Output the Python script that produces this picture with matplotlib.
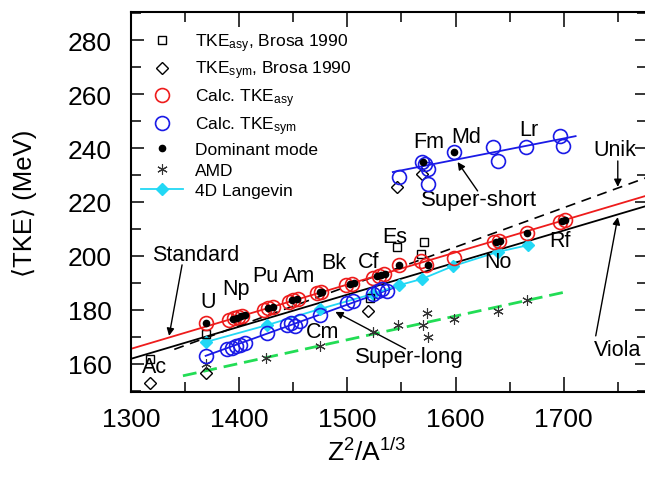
import matplotlib
matplotlib.use("Agg")
import matplotlib.pyplot as plt
from matplotlib.ticker import MultipleLocator

plt.rcParams['font.family'] = ['Liberation Sans', 'DejaVu Sans']
plt.rcParams['mathtext.fontset'] = 'custom'
plt.rcParams['mathtext.rm'] = 'Liberation Sans'
plt.rcParams['mathtext.it'] = 'Liberation Sans:italic'

# --- data ---
# Brosa 1990 systematics
brosa_asy_x = [1318, 1369, 1521, 1546, 1568, 1571]
brosa_asy_y = [162.0, 171.1, 184.6, 203.3, 200.7, 205.2]
brosa_sym_x = [1318, 1369, 1519, 1546, 1569]
brosa_sym_y = [153.0, 156.7, 179.6, 225.6, 230.4]

# calculated TKE, asymmetric mode
asy_x = [1369, 1391, 1395, 1399, 1403, 1423, 1427, 1431, 1446, 1450, 1454,
         1472, 1476, 1499, 1504, 1524, 1529, 1534, 1548, 1568, 1573, 1599,
         1636, 1640, 1666, 1697, 1701]
asy_y = [175.0, 176.4, 177.0, 177.4, 177.8, 180.0, 180.6, 181.0, 183.0, 183.6, 184.2,
         186.2, 186.8, 189.2, 189.8, 191.8, 192.6, 193.2, 196.7, 198.0, 196.6, 199.3,
         205.0, 205.6, 208.5, 212.6, 213.2]

# calculated TKE, symmetric mode (super-long + super-short)
sym_x = [1369, 1389, 1393, 1397, 1401, 1405, 1426, 1444, 1448, 1452, 1456,
         1475, 1500, 1505, 1524, 1528, 1532, 1537,
         1548, 1569, 1572, 1575, 1575, 1599, 1635, 1639, 1665, 1697, 1699]
sym_y = [163.0, 165.5, 166.0, 166.6, 167.2, 167.8, 171.3, 174.4, 175.0, 174.0, 175.8,
         178.2, 182.5, 183.5, 186.0, 187.0, 187.6, 187.2,
         229.3, 234.8, 234.0, 232.2, 226.7, 238.5, 240.4, 235.2, 240.4, 244.4, 240.7]

# dominant mode
dom_x = [1369, 1394, 1398, 1402, 1405, 1427, 1431, 1449, 1453, 1475, 1477,
         1502, 1506, 1527, 1531, 1535, 1548, 1575, 1637, 1641, 1666, 1698, 1701,
         1570, 1599]
dom_y = [175.0, 176.8, 177.2, 177.6, 178.0, 180.6, 181.0, 183.6, 184.2, 186.6, 186.8,
         189.6, 190.0, 192.4, 192.8, 193.2, 196.7, 196.8, 205.2, 205.4, 208.5, 212.8, 213.2,
         234.8, 238.5]

# AMD
amd_x = [1369, 1425, 1475, 1524, 1547, 1570, 1574, 1575, 1599, 1639, 1666]
amd_y = [160.0, 162.2, 166.7, 172.0, 174.6, 174.4, 179.0, 170.0, 176.8, 179.6, 183.7]

# 4D Langevin
lang_x = [1369, 1426, 1475, 1524, 1548, 1569, 1598, 1639, 1667]
lang_y = [168.1, 174.4, 180.4, 186.0, 189.2, 191.5, 196.3, 201.5, 204.0]

# straight lines (end points)
viola_x, viola_y = [1300, 1777], [161.9, 218.6]
standard_x, standard_y = [1300, 1777], [165.6, 222.4]
unik_x, unik_y = [1340, 1777], [165.4, 229.1]
slong_x, slong_y = [1369, 1545], [163.0, 188.5]
sshort_x, sshort_y = [1542, 1711], [231.1, 244.4]
amdfit_x, amdfit_y = [1348, 1702], [155.6, 186.7]

elements = ['Ac', 'U', 'Np', 'Pu', 'Am', 'Cm', 'Bk', 'Cf', 'Es', 'Fm', 'Md', 'No', 'Lr', 'Rf']
elem_x = [1322, 1371, 1397, 1424, 1455, 1477, 1487, 1520, 1544, 1575, 1610, 1639, 1668, 1697]
elem_y = [158.9, 183.3, 187.8, 192.6, 192.6, 172.2, 197.4, 198.1, 207.4, 242.6, 244.4, 197.8, 247.0, 205.6]

fig = plt.figure(figsize=(6.45, 4.81), dpi=100)
ax = fig.add_axes([131/645, 1 - 393/481, 516/645, 380/481])

red = '#ee1c1c'
blue = '#1a1ae6'
cyan = '#22d8f5'
green = '#22dd55'

ax.plot(viola_x, viola_y, color='k', lw=1.3, zorder=2)
ax.plot(unik_x, unik_y, color='k', lw=1.2, ls=(0, (6, 4)), zorder=2)
ax.plot(standard_x, standard_y, color=red, lw=1.3, zorder=2)
ax.plot(slong_x, slong_y, color=blue, lw=1.3, zorder=2)
ax.plot(sshort_x, sshort_y, color=blue, lw=1.3, zorder=2)
ax.plot(amdfit_x, amdfit_y, color=green, lw=2.0, ls=(0, (5, 2.5)), zorder=2)

ax.plot(brosa_asy_x, brosa_asy_y, 's', ms=6, mfc='none', mec='k', mew=1.0,
        label=r'TKE$_{\rm asy}$, Brosa 1990', zorder=4)
ax.plot(brosa_sym_x, brosa_sym_y, 'D', ms=6.5, mfc='none', mec='k', mew=1.0,
        label=r'TKE$_{\rm sym}$, Brosa 1990', zorder=4)
ax.plot(asy_x, asy_y, 'o', ms=10, mfc='none', mec=red, mew=1.2,
        label=r'Calc. TKE$_{\rm asy}$', zorder=5)
ax.plot(sym_x, sym_y, 'o', ms=10, mfc='none', mec=blue, mew=1.2,
        label=r'Calc. TKE$_{\rm sym}$', zorder=5)
ax.plot(dom_x, dom_y, 'o', ms=4.5, color='k', label='Dominant mode', zorder=6)
ax.plot(amd_x, amd_y, marker=(6, 2, 0), ms=7.5, ls='none', color='#333333', mew=0.8,
        label='AMD', zorder=4)
ax.plot(lang_x, lang_y, '-D', color=cyan, ms=6.5, lw=1.3, label='4D Langevin', zorder=3)

for name, ex, ey in zip(elements, elem_x, elem_y):
    ax.text(ex, ey, name, fontsize=15.5, ha='center', va='center', zorder=7)

arrow = dict(arrowstyle='-|>', color='k', lw=1.0, mutation_scale=11, shrinkA=0, shrinkB=0)
ax.text(1319.4, 200.7, 'Standard', fontsize=15.5, ha='left', va='center')
ax.annotate('', xy=(1335.2, 170.4), xytext=(1347.2, 196.7), arrowprops=arrow)
ax.text(1507.4, 162.6, 'Super-long', fontsize=16, ha='left', va='center')
ax.annotate('', xy=(1488.9, 179.3), xytext=(1553.7, 165.6), arrowprops=arrow)
ax.text(1567.6, 221.1, 'Super-short', fontsize=16, ha='left', va='center')
ax.annotate('', xy=(1601.9, 234.8), xytext=(1620.4, 224.1), arrowprops=arrow)
ax.text(1727.8, 165.2, 'Viola', fontsize=15.5, ha='left', va='center')
ax.annotate('', xy=(1750, 214.4), xytext=(1729.6, 170.4), arrowprops=arrow)
ax.text(1727.8, 239.6, 'Unik', fontsize=15.5, ha='left', va='center')
ax.annotate('', xy=(1750, 225.6), xytext=(1750, 235.2), arrowprops=arrow)

ax.set_xlim(1300, 1777)
ax.set_ylim(149.6, 290.4)
ax.xaxis.set_major_locator(MultipleLocator(100))
ax.xaxis.set_minor_locator(MultipleLocator(50))
ax.yaxis.set_major_locator(MultipleLocator(20))
ax.yaxis.set_minor_locator(MultipleLocator(10))
ax.tick_params(which='both', direction='in', top=True, right=True, width=1.1)
ax.tick_params(axis='x', which='major', length=11, labelsize=19, pad=11)
ax.tick_params(axis='x', which='minor', length=7)
ax.tick_params(axis='y', which='major', length=9, labelsize=19, pad=14)
ax.tick_params(axis='y', which='minor', length=7)
for s in ax.spines.values():
    s.set_linewidth(1.5)

ax.set_xlabel(r'Z$^2$/A$^{1/3}$', fontsize=19)
ax.xaxis.set_label_coords(0.457, -0.12)
ax.set_ylabel('\u27e8TKE\u27e9 (MeV)', fontsize=18.5)
ax.yaxis.set_label_coords(-0.182, 0.5)

ax.legend(loc='upper left', bbox_to_anchor=(0.02, 0.95), frameon=False,
          fontsize=12.5, borderpad=0, borderaxespad=0, labelspacing=0.3,
          handlelength=2.4, handletextpad=0.7, numpoints=1)

fig.savefig('out.png', dpi=100)
